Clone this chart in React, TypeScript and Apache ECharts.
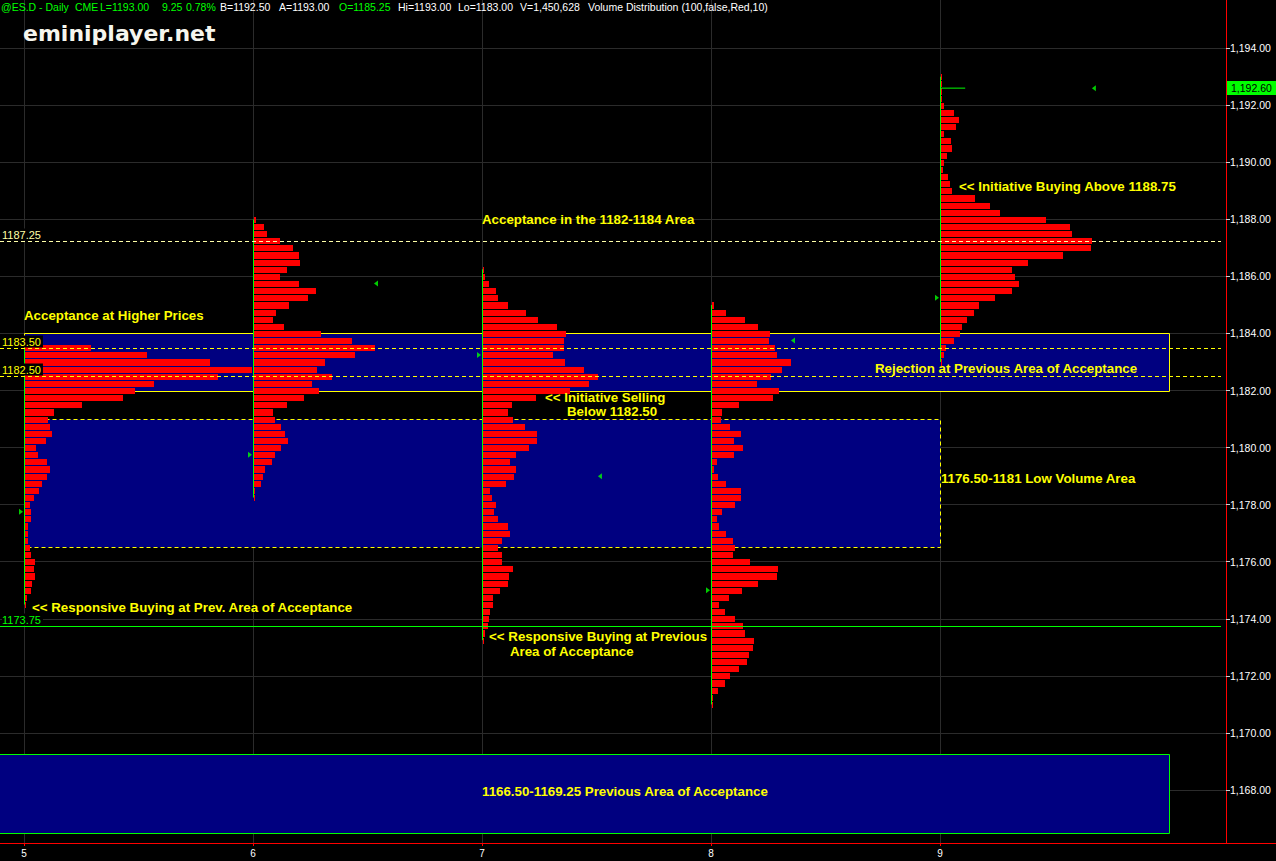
import { useEffect, useRef } from 'react';
import * as echarts from 'echarts';

const FONT = '"Liberation Sans", Arial, Helvetica, sans-serif';

// Axis ranges: sessions on x, ES price on y
const X_MIN = 4.8952;
const X_MAX = 10.2489;
const Y_MIN = 1166.141;
const Y_MAX = 1195.689;

const TICK = 0.25;
const SESSIONS = [5, 6, 7, 8, 9];
const PRICE_TICKS = [1168, 1170, 1172, 1174, 1176, 1178, 1180, 1182, 1184, 1186, 1188, 1190, 1192, 1194];

// Volume at price, listed from each session's highest level downwards (one entry per 0.25)
const PROFILE_TOP = [1183.5, 1188.0, 1186.25, 1185.0, 1193.0];
const VOLUME_5 = [66, 122, 185, 227, 193, 129, 110, 98, 57, 29, 23, 25, 27, 21, 11, 13, 22, 25, 22, 17, 14, 9, 5, 6, 6, 3, 3, 3, 5, 6, 10, 9, 10, 7, 6, 2, 1];
const VOLUME_6 = [2, 10, 13, 26, 39, 45, 46, 33, 26, 45, 62, 54, 35, 22, 19, 30, 67, 98, 121, 101, 71, 63, 78, 58, 65, 50, 33, 19, 21, 27, 31, 34, 27, 21, 18, 11, 9, 7, 1, 1];
const VOLUME_7 = [1, 2, 6, 13, 15, 25, 43, 55, 74, 83, 81, 81, 70, 82, 101, 115, 106, 87, 53, 29, 25, 30, 42, 54, 54, 46, 33, 27, 33, 31, 23, 7, 9, 13, 11, 15, 25, 27, 19, 15, 19, 19, 30, 26, 25, 17, 10, 10, 7, 6, 5, 2, 1];
const VOLUME_8 = [2, 14, 33, 46, 58, 57, 63, 65, 79, 70, 59, 45, 67, 61, 27, 10, 9, 18, 29, 22, 31, 22, 5, 2, 6, 14, 29, 29, 23, 10, 5, 7, 14, 21, 23, 21, 38, 66, 65, 46, 30, 17, 7, 13, 23, 31, 33, 42, 41, 37, 35, 27, 18, 13, 6, 1, 1];
const VOLUME_9 = [1, 1, 1, 1, 3, 13, 18, 15, 3, 10, 11, 6, 3, 2, 7, 9, 11, 34, 49, 59, 105, 129, 131, 151, 150, 122, 87, 71, 74, 78, 71, 54, 38, 33, 26, 21, 19, 13, 5, 3, 1];
const PROFILES = [VOLUME_5, VOLUME_6, VOLUME_7, VOLUME_8, VOLUME_9];
// volume units that fill one session column
const VOLUME_PER_SESSION = 229;

const SESSION_HIGH = [1183.5, 1188.0, 1186.25, 1185.0, 1193.0];
const SESSION_LOW = [1174.5, 1178.25, 1173.25, 1171.0, 1183.0];
const SESSION_OPEN = [1177.75, 1179.75, 1183.25, 1175.0, 1185.25];
const CLOSE_AT = [6.537, 7.515, 8.358, 9.672];
const CLOSE_PRICE = [1185.75, 1179.0, 1183.75, 1192.6];
const LAST_PRICE = 1192.6;
const LAST_TICK_END = 9.11;

// Shaded price zones
const ZONE_FROM = [5, 5, 4.8];
const ZONE_TO = [10, 9, 10];
const ZONE_LOW = [1182, 1176.5, 1166.5];
const ZONE_HIGH = [1184, 1181, 1169.25];
const ZONE_BORDER = ['#ffff00', '#ffff00', '#00ff00'];
const ZONE_DASHED = [false, true, false];

// Horizontal reference levels
const LEVEL_PRICE = [1187.25, 1183.5, 1182.5, 1173.75];
const LEVEL_LABEL = ['1187.25', '1183.50', '1182.50', '1173.75'];
const LEVEL_END = 10.227;
const LEVEL_COLOR = ['#ffffa8', '#ffff00', '#ffff00', '#00ff00'];
const LEVEL_DASHED = [true, true, true, false];

// Commentary
const NOTES = [
  'Acceptance at Higher Prices',
  'Acceptance in the 1182-1184 Area',
  '<< Initiative Buying Above 1188.75',
  'Rejection at Previous Area of Acceptance',
  '<< Initiative Selling',
  'Below 1182.50',
  '1176.50-1181 Low Volume Area',
  '<< Responsive Buying at Prev. Area of Acceptance',
  '<< Responsive Buying at Previous',
  'Area of Acceptance',
  '1166.50-1169.25 Previous Area of Acceptance',
];
const NOTE_AT = [5.0, 7.0, 9.083, 8.716, 7.275, 7.371, 9.004, 5.035, 7.031, 7.122, 7.0];
const NOTE_PRICE = [1184.613, 1187.978, 1189.135, 1182.79, 1181.74, 1181.248, 1178.9, 1174.413, 1173.39, 1172.836, 1167.93];

// Quote line
const HEADER_TEXT = ['@ES.D - Daily', 'CME', 'L=1193.00', '9.25', '0.78%', 'B=1192.50', 'A=1193.00', 'O=1185.25', 'Hi=1193.00', 'Lo=1183.00', 'V=1,450,628', 'Volume Distribution (100,false,Red,10)'];
const HEADER_GREEN = [true, true, true, true, true, false, false, true, false, false, false, false];
const HEADER_X = [1, 75, 100, 162, 186, 220, 279, 339, 398, 458, 520, 588];

const formatPrice = (v: number) => v.toFixed(2).replace(/\B(?=(\d{3})+(?!\d))/g, ',');

export default function App() {
  const ref = useRef<HTMLDivElement>(null);

  useEffect(() => {
    document.body.style.margin = '0';
    document.body.style.background = '#000';
    const chart = echarts.init(ref.current!, null, { renderer: 'svg' });

    const volumeData: number[][] = [];
    PROFILES.forEach((vols, i) => {
      vols.forEach((v, k) => volumeData.push([SESSIONS[i], PROFILE_TOP[i] - k * TICK, v]));
    });

    const zoneData = ZONE_FROM.map((f, i) => [f, ZONE_TO[i], ZONE_LOW[i], ZONE_HIGH[i], i]);
    const rangeData = SESSIONS.map((d, i) => [d, SESSION_HIGH[i], SESSION_LOW[i]]);
    const levelData = LEVEL_PRICE.map((p, i) => [X_MIN, p, i]);
    const noteData = NOTES.map((_, i) => [NOTE_AT[i], NOTE_PRICE[i], i]);

    chart.setOption({
      animation: false,
      backgroundColor: '#000000',
      grid: { left: 0, top: 0, right: 50, bottom: 18, outerBoundsMode: 'none', containLabel: false },
      xAxis: {
        type: 'value',
        min: X_MIN,
        max: X_MAX,
        axisLine: { show: true, lineStyle: { color: '#ff0000', width: 1 } },
        axisTick: { show: true, customValues: SESSIONS, length: 3, lineStyle: { color: '#ff0000' } },
        axisLabel: { customValues: SESSIONS, color: '#ffffff', fontSize: 10, fontFamily: FONT, margin: 5, formatter: (v: number) => String(v) },
        splitLine: { show: true, lineStyle: { color: '#2b2b2b', width: 1 } },
      },
      yAxis: {
        type: 'value',
        position: 'right',
        min: Y_MIN,
        max: Y_MAX,
        axisLine: { show: true, lineStyle: { color: '#ff0000', width: 1 } },
        axisTick: { show: true, customValues: PRICE_TICKS, length: 4, lineStyle: { color: '#d0d0d0' } },
        axisLabel: { customValues: PRICE_TICKS, color: '#ffffff', fontSize: 10.5, fontFamily: FONT, margin: 4, formatter: (v: number) => formatPrice(v) },
        splitLine: { show: true, lineStyle: { color: '#2b2b2b', width: 1 } },
      },
      series: [
        {
          type: 'custom',
          name: 'zones',
          z: 1,
          data: zoneData,
          encode: { x: [0, 1], y: [2, 3] },
          renderItem: (_: any, api: any) => {
            const i = api.value(4);
            const a = api.coord([api.value(0), api.value(3)]);
            const b = api.coord([api.value(1), api.value(2)]);
            const x0 = Math.round(a[0]) + 0.5;
            const y0 = Math.round(a[1]) + 0.5;
            const x1 = Math.round(b[0]) + 0.5;
            const y1 = Math.round(b[1]) + 0.5;
            return {
              type: 'rect',
              shape: { x: x0, y: y0, width: x1 - x0, height: y1 - y0 },
              style: { fill: '#000080', stroke: ZONE_BORDER[i], lineWidth: 1, lineDash: ZONE_DASHED[i] ? [4, 3] : null },
            };
          },
        },
        {
          type: 'custom',
          name: 'volume',
          z: 3,
          data: volumeData,
          encode: { x: 0, y: 1 },
          renderItem: (_: any, api: any) => {
            const day = api.value(0);
            const price = api.value(1);
            const vol = api.value(2);
            const a = api.coord([day, price + TICK / 2]);
            const b = api.coord([day, price - TICK / 2]);
            const len = api.size([vol / VOLUME_PER_SESSION, 0])[0];
            const y0 = Math.round(a[1]);
            const y1 = Math.round(b[1]);
            return {
              type: 'rect',
              shape: { x: Math.round(a[0]) + 1, y: y0 + 1, width: Math.max(1, Math.round(len)), height: y1 - y0 - 1 },
              style: { fill: '#ff0000' },
            };
          },
        },
        {
          type: 'custom',
          name: 'range',
          z: 4,
          data: rangeData,
          encode: { x: 0, y: [1, 2] },
          renderItem: (_: any, api: any) => {
            const t = api.coord([api.value(0), api.value(1)]);
            const b = api.coord([api.value(0), api.value(2)]);
            const x = Math.round(t[0]) + 0.5;
            return { type: 'line', shape: { x1: x, y1: t[1], x2: x, y2: b[1] }, style: { stroke: '#00ff00', lineWidth: 1 } };
          },
        },
        {
          type: 'scatter',
          name: 'open',
          z: 4,
          data: SESSIONS.map((d, i) => [d, SESSION_OPEN[i]]),
          symbol: 'triangle',
          symbolSize: [6, 4],
          symbolRotate: -90,
          symbolOffset: [-3, 0],
          itemStyle: { color: '#00ff00' },
          silent: true,
        },
        {
          type: 'scatter',
          name: 'close',
          z: 4,
          data: CLOSE_AT.map((d, i) => [d, CLOSE_PRICE[i]]),
          symbol: 'triangle',
          symbolSize: [6, 4],
          symbolRotate: 90,
          itemStyle: { color: '#00ff00' },
          silent: true,
        },
        {
          type: 'line',
          name: 'last',
          z: 4,
          data: [[SESSIONS[4], LAST_PRICE], [LAST_TICK_END, LAST_PRICE]],
          showSymbol: false,
          symbol: 'none',
          lineStyle: { color: '#00ff00', width: 1 },
          silent: true,
        },
        {
          type: 'custom',
          name: 'levels',
          z: 5,
          data: levelData,
          encode: { y: 1 },
          renderItem: (_: any, api: any) => {
            const i = api.value(2);
            const s = api.coord([api.value(0), api.value(1)]);
            const e = api.coord([LEVEL_END, api.value(1)]);
            const y = Math.round(s[1]) + 0.5;
            return {
              type: 'group',
              children: [
                { type: 'line', shape: { x1: s[0], y1: y, x2: e[0], y2: y }, style: { stroke: LEVEL_COLOR[i], lineWidth: 1, lineDash: LEVEL_DASHED[i] ? [4, 3] : null } },
                {
                  type: 'text',
                  x: Math.max(s[0], 0) + 2,
                  y: y - 1,
                  style: {
                    text: LEVEL_LABEL[i],
                    fill: LEVEL_COLOR[i],
                    font: `11px ${FONT}`,
                    align: 'left',
                    verticalAlign: 'bottom',
                    textAlign: 'left',
                    textVerticalAlign: 'bottom',
                    backgroundColor: '#000000',
                    padding: [1, 2, 0, 0],
                  },
                },
              ],
            };
          },
        },
        {
          type: 'custom',
          name: 'notes',
          z: 6,
          data: noteData,
          encode: { x: 0, y: 1 },
          renderItem: (_: any, api: any) => {
            const i = api.value(2);
            const p = api.coord([api.value(0), api.value(1)]);
            return {
              type: 'text',
              x: p[0],
              y: p[1],
              style: {
                text: NOTES[i],
                fill: '#ffff00',
                font: `bold 13.3px ${FONT}`,
                align: 'left',
                verticalAlign: 'middle',
                textAlign: 'left',
                textVerticalAlign: 'middle',
              },
            };
          },
        },
      ],
    });

    const lastY = chart.convertToPixel({ yAxisIndex: 0 }, LAST_PRICE) as number;
    const graphics: any[] = HEADER_TEXT.map((t, i) => ({
      type: 'text',
      x: HEADER_X[i],
      y: 7,
      style: { text: t, fill: HEADER_GREEN[i] ? '#00ff00' : '#ffffff', font: `10.5px ${FONT}`, textVerticalAlign: 'middle', verticalAlign: 'middle' },
      z: 10,
    }));
    graphics.push({
      type: 'text',
      x: 23,
      y: 33,
      style: { text: 'eminiplayer.net', fill: '#f6f6ee', font: 'bold 22px "DejaVu Sans", Verdana, sans-serif', textVerticalAlign: 'middle', verticalAlign: 'middle' },
      z: 10,
    });
    graphics.push({
      type: 'line',
      shape: { x1: 1226, y1: 843.5, x2: 1276, y2: 843.5 },
      style: { stroke: '#ff0000', lineWidth: 1 },
      z: 10,
    });
    graphics.push({
      type: 'rect',
      shape: { x: 1227, y: Math.round(lastY) - 7, width: 49, height: 14 },
      style: { fill: '#00ff00' },
      z: 10,
    });
    graphics.push({
      type: 'text',
      x: 1231,
      y: Math.round(lastY),
      style: { text: formatPrice(LAST_PRICE), fill: '#000000', font: `10.5px ${FONT}`, textVerticalAlign: 'middle', verticalAlign: 'middle' },
      z: 11,
    });
    chart.setOption({ graphic: graphics });

    return () => chart.dispose();
  }, []);

  return <div ref={ref} style={{ position: 'fixed', left: 0, top: 0, width: 1276, height: 861, background: '#000' }} />;
}
